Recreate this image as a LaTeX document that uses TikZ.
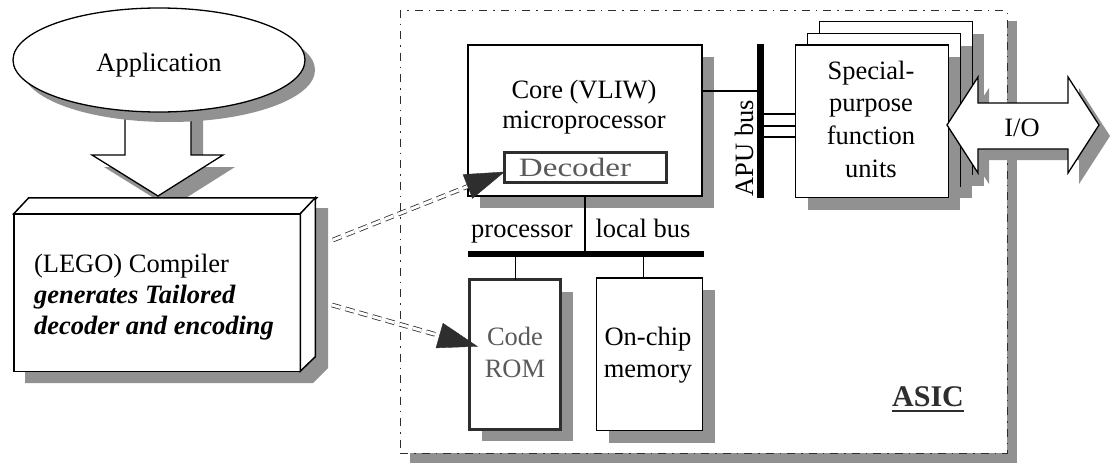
\documentclass[tikz,border=0pt]{standalone}
\usepackage{fontspec}
\setmainfont{Liberation Serif}
\usepackage{graphicx}
\usetikzlibrary{arrows.meta,calc,shapes.geometric,shadows}
\definecolor{shadowgray}{HTML}{919191}
\definecolor{darkline}{HTML}{2E2E2E}
\definecolor{textgray}{HTML}{5A5A5A}
\begin{document}
\begin{tikzpicture}[x=1pt,y=-1pt,
  every node/.style={inner sep=0pt, outer sep=0pt},
  txt/.style={font=\fontsize{26.5}{30}\selectfont},
  outl/.style={draw=black, line width=1.3pt, fill=white, line join=miter},
  thickbox/.style={draw=darkline, line width=3pt, fill=white},
  shd/.style={drop shadow={shadow xshift=#1pt, shadow yshift=-#1pt, opacity=1, fill=shadowgray}},
  asicbox/.style={draw=darkline, fill=white, line width=1pt, dash pattern=on 8pt off 6pt on 1.5pt off 6pt},
  busbar/.style={fill=black, draw=none},
  conn/.style={draw=black, line width=1.3pt},
  dblline/.style={draw=darkline, line width=0.8pt, double=white, double distance=3pt, dash pattern=on 9pt off 5pt},
  tipstyle/.style={draw=darkline, fill=darkline, line width=0.4pt, -{Triangle[length=40pt,width=26pt]}}
]
\useasboundingbox (0,0) rectangle (1113,463);

% ASIC frame
\node[asicbox, shd=10, minimum width=607pt, minimum height=442.5pt] (asic) at (703.5,231.75) {};

% Application and arrow down
\draw[outl, shd=12] (125,100) -- (191,100) -- (191,155) -- (223,155) -- (158,196) -- (92,155) -- (125,155) -- cycle;
\node[outl, shd=10, ellipse, minimum width=292pt, minimum height=104pt] (app) at (159,60) {};

% Compiler 3D box
\fill[shadowgray] (25,224) -- (40,208) -- (328,208) -- (328,368) -- (313,383) -- (25,383) -- cycle;
\node[outl, line width=1.5pt, minimum width=286.5pt, minimum height=157.5pt] (comp) at (157,292.5) {};
\draw[outl, line width=1.5pt] (comp.north west) -- ++(15,-16) -- ++(288,0) -- (comp.north east) -- cycle;
\draw[outl, line width=1.5pt] (comp.north east) -- ++(15,-16) -- ++(0,159) -- (comp.south east) -- cycle;

% Core
\node[outl, shd=12, minimum width=234pt, minimum height=151pt] (core) at (585,120.5) {};
\node[thickbox, minimum width=161.5pt, minimum height=30.5pt] (dec) at (585.5,167.5) {};

% APU bus
\node[busbar, minimum width=7pt, minimum height=154pt] (apu) at (760,121) {};
\coordinate (k0) at (703,91);
\draw[conn] (k0) -- (k0 -| apu.center);

% Special purpose units stack
\node[outl, shd=12, minimum width=152.7pt, minimum height=152.7pt] (spfu3) at (896,98) {};
\node[outl, shd=12, minimum width=152.7pt, minimum height=152.7pt] (spfu2) at (884,110) {};
\node[outl, shd=12, minimum width=152.7pt, minimum height=152.7pt] (spfu) at (872,121.3) {};
\foreach \yy/\nm in {114/l1,126/l2,137/l3}{
  \coordinate (\nm) at (760,\yy);
  \draw[conn] (\nm) -- (\nm -| spfu.west);
}

% I/O arrow
\draw[outl, shd=11] (947,125) -- (978,77) -- (978,103) -- (1068,103) -- (1068,77) -- (1099,125) -- (1068,173) -- (1068,149) -- (978,149) -- (978,173) -- cycle;

% processor local bus
\node[busbar, minimum width=236pt, minimum height=6.5pt] (pbus) at (586,254) {};
\draw[conn] (core.south) -- (core.south |- pbus.north);

% memories
\node[thickbox, shd=12, minimum width=91pt, minimum height=149.5pt] (rom) at (515.3,354.5) {};
\node[outl, shd=12, minimum width=106pt, minimum height=152.7pt] (mem) at (649.7,354.3) {};
\draw[conn] (rom.north) -- (rom.north |- pbus.south);
\coordinate (mtop) at ($(mem.north)+(-6.5,0)$);
\draw[conn] (mtop) -- (mtop |- pbus.south);

% dashed double connectors
\coordinate (s1) at (333,240);
\coordinate (t1) at ($(dec.south west)+(0,-11)$);
\draw[dblline, shorten >=36pt] (s1) -- (t1);
\draw[tipstyle] ($(t1)!40pt!(s1)$) -- (t1);
\coordinate (s2) at (332,305);
\coordinate (t2) at ($(rom.west)+(8,-8)$);
\draw[dblline, shorten >=36pt] (s2) -- (t2);
\draw[tipstyle] ($(t2)!40pt!(s2)$) -- (t2);

% texts
\node[txt, anchor=base] (apptxt) at (159,71) {Application};
\node[txt, font=\fontsize{26.5}{31}\selectfont, align=left, anchor=west] (comptxt) at (34,296.7)
  {(LEGO) Compiler\\ \textbf{\textit{generates Tailored}}\\ \textbf{\textit{decoder and encoding}}};
\node[txt, align=center] (coretxt) at (584,106.7) {Core (VLIW)\\microprocessor};
\node[txt, anchor=base, text=textgray] (dectxt) at (575,176) {\scalebox{1.25}[1]{Decoder}};
\node[txt, rotate=90, anchor=base] (apulbl) at (753,148) {APU bus};
\node[txt, font=\fontsize{26.5}{32.7}\selectfont, align=center] (spfutxt) at (871,119) {Special-\\purpose\\function\\units};
\node[txt, anchor=base] (iotxt) at (1022,136) {I/O};
\node[txt, anchor=base] (proctxt) at (522,237) {processor};
\node[txt, anchor=base] (lbtxt) at (643,237) {local bus};
\node[txt, font=\fontsize{26.5}{32}\selectfont, align=center, text=textgray] (romtxt) at (515,352) {Code\\ROM};
\node[txt, font=\fontsize{26.5}{32}\selectfont, align=center] (memtxt) at (648,355) {On-chip\\memory};
\node[anchor=base, text=darkline, font=\fontsize{30}{30}\selectfont\bfseries] (asiclbl) at (928,406) {ASIC};
\draw[draw=darkline, line width=2.5pt] ($(asiclbl.base west)+(0,5)$) -- ($(asiclbl.base east)+(0,5)$);
\end{tikzpicture}
\end{document}
